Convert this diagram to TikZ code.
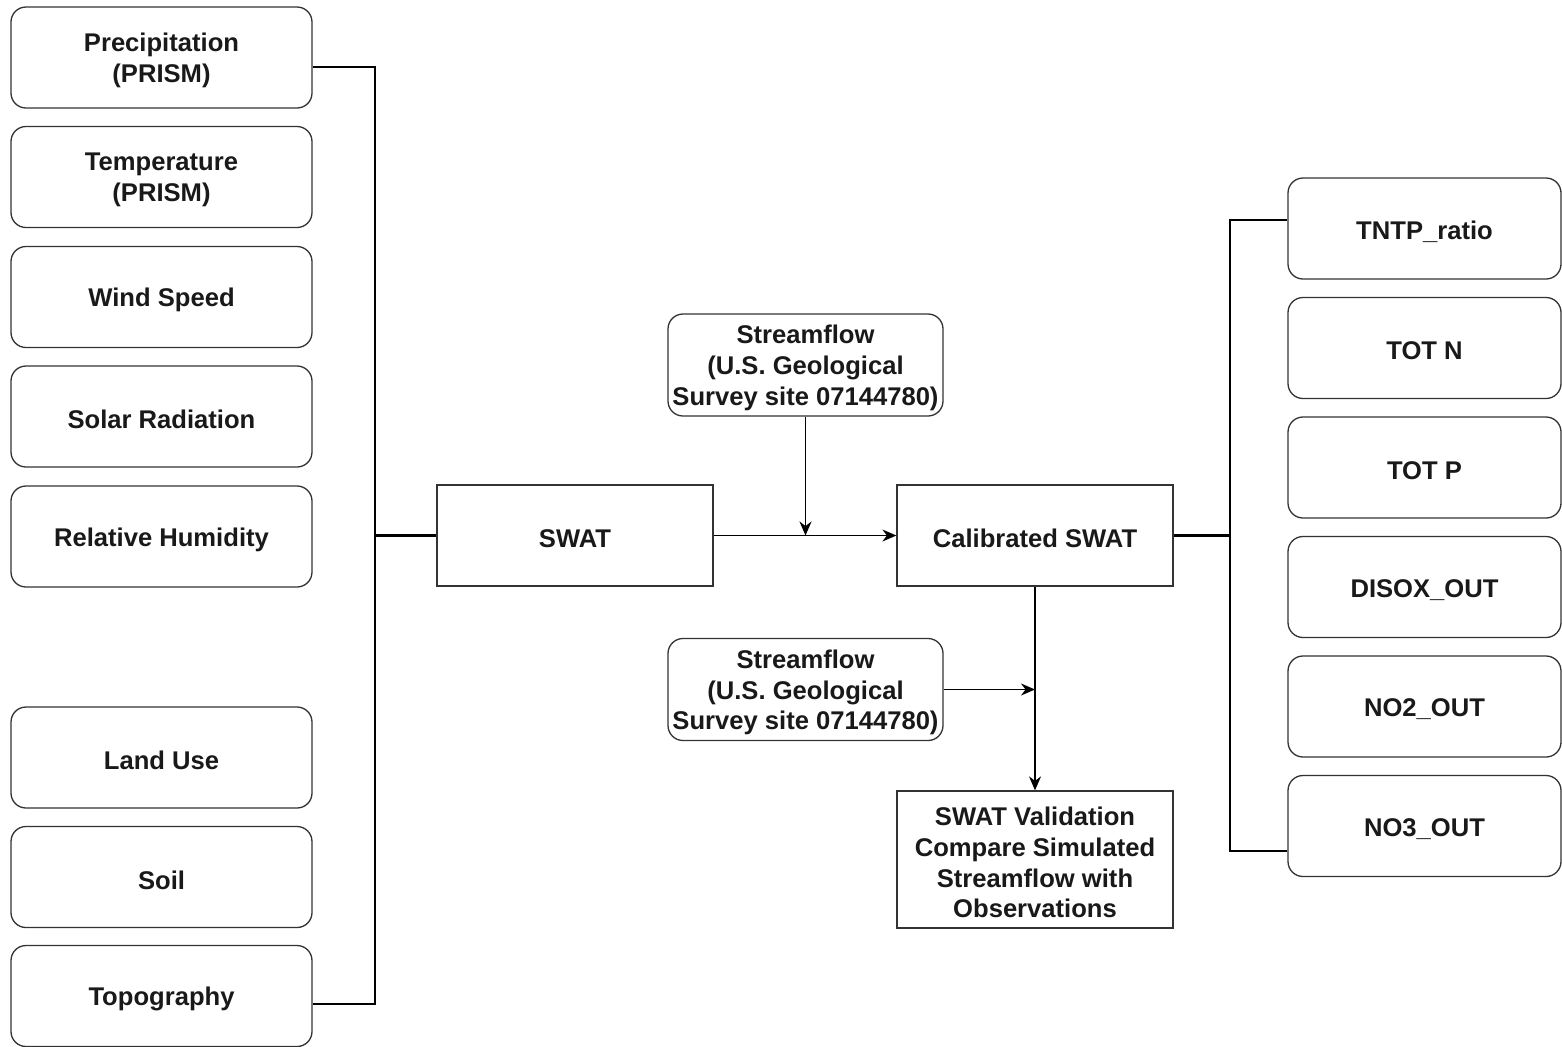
\documentclass[tikz,border=0pt]{standalone}
\usepackage{fontspec}
\setmainfont{Liberation Sans}
\usetikzlibrary{calc,arrows.meta}
\begin{document}
\begin{tikzpicture}[x=0.5pt,y=-0.5pt,
  base/.style={draw=black!80, line width=0.65pt, fill=white, inner sep=0pt},
  lbl/.style={align=center, inner sep=0pt, yshift=-1.5pt,
    font=\bfseries\fontsize{12.8}{15.4}\selectfont, text=black!90},
  rbox/.style={base, rounded corners=7.5pt, minimum width=150.5pt, minimum height=50.5pt,
    label={[lbl]center:#1}},
  sbox/.style={base, minimum width=138pt, minimum height=50.5pt, label={[lbl]center:#1}},
  thk/.style={draw=black, line width=1.3pt},
  arr/.style={draw=black, line width=0.65pt, -{Stealth[length=7pt,width=6pt]}}]
\useasboundingbox (0,0) rectangle (1562,1046);
% left inputs
\node[rbox={Precipitation\\(PRISM)}] (prec) at (161.5,57.5) {};
\node[rbox={Temperature\\(PRISM)}] (temp) at (161.5,177) {};
\node[rbox={Wind Speed}] (wind) at (161.5,297) {};
\node[rbox={Solar Radiation}] (solar) at (161.5,416.5) {};
\node[rbox={Relative Humidity}] (hum) at (161.5,536.5) {};
\node[rbox={Land Use}] (land) at (161.5,757.5) {};
\node[rbox={Soil}] (soil) at (161.5,877) {};
\node[rbox={Topography}] (topo) at (161.5,996) {};
% center
\node[sbox={SWAT}] (swat) at (575,535.5) {};
\node[sbox={Calibrated SWAT}] (cal) at (1035,535.5) {};
\node[rbox={Streamflow\\(U.S. Geological\\Survey site 07144780)}, minimum width=137.5pt, minimum height=51pt] (sa) at (805.5,365) {};
\node[rbox={Streamflow\\(U.S. Geological\\Survey site 07144780)}, minimum width=137.5pt, minimum height=51pt] (sb) at (805.5,689.5) {};
\node[sbox={SWAT Validation\\Compare Simulated\\Streamflow with\\Observations}, minimum height=68.5pt] (val) at (1035,859.5) {};
% right outputs
\node[rbox={TNTP\_ratio}, minimum width=136.5pt] (tntp) at (1424.5,228.5) {};
\node[rbox={TOT N}, minimum width=136.5pt] (totn) at (1424.5,348) {};
\node[rbox={TOT P}, minimum width=136.5pt] (totp) at (1424.5,467.5) {};
\node[rbox={DISOX\_OUT}, minimum width=136.5pt] (disox) at (1424.5,587) {};
\node[rbox={NO2\_OUT}, minimum width=136.5pt] (notwo) at (1424.5,706.5) {};
\node[rbox={NO3\_OUT}, minimum width=136.5pt] (nothree) at (1424.5,826) {};
% junctions
\coordinate (jl) at (375,535.5);
\coordinate (jr) at (1230,535.5);
% connectors
\draw[thk] ($(prec.east)+(0,9.5)$) -| (jl) -- (swat.west);
\draw[thk] ($(topo.east)+(0,8)$) -| (jl);
\draw[arr] (swat.east) -- (cal.west);
\draw[arr] (sa.south) -- (sa.south |- swat.east);
\draw[arr] (cal.south) -- (val.north);
\draw[arr] (sb.east) -- (sb.east -| cal.south);
\draw[thk] (cal.east) -- (jr) |- ($(tntp.west)+(0,-8.5)$);
\draw[thk] (jr) |- ($(nothree.west)+(0,25)$);
\end{tikzpicture}
\end{document}
